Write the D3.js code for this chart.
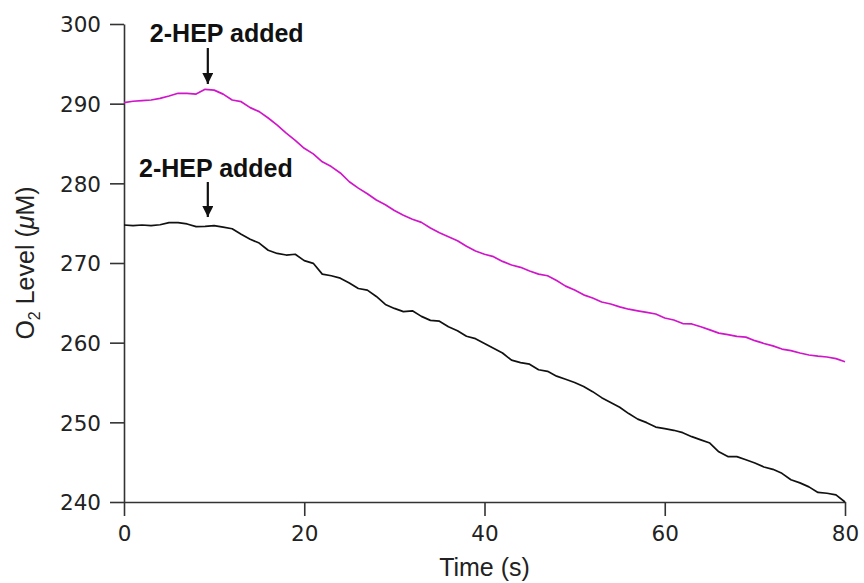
<!DOCTYPE html>
<html>
<head>
<meta charset="utf-8">
<script src="https://cdn.jsdelivr.net/npm/d3@7"></script>
<style>
  html, body { margin: 0; padding: 0; background: #fff; }
  svg { display: block; }
</style>
</head>
<body>
<svg id="chart" width="864" height="583"></svg>
<script>
// Oxygen trace sampled once per second
const timeS = d3.range(0, 81);

const o2Magenta = [
  290.12, 290.30, 290.38, 290.46, 290.67, 290.96, 291.30, 291.30, 291.20, 291.80,
  291.70, 291.20, 290.46, 290.25, 289.50, 289.00, 288.20, 287.30, 286.30, 285.40,
  284.40, 283.70, 282.70, 282.10, 281.30, 280.20, 279.40, 278.70, 277.90, 277.30,
  276.60, 276.00, 275.50, 275.10, 274.40, 273.80, 273.30, 272.80, 272.10, 271.50,
  271.10, 270.80, 270.20, 269.75, 269.46, 269.00, 268.60, 268.40, 267.80, 267.10,
  266.60, 266.00, 265.60, 265.10, 264.85, 264.50, 264.20, 264.00, 263.80, 263.60,
  263.10, 262.85, 262.40, 262.35, 262.00, 261.60, 261.20, 261.00, 260.80, 260.70,
  260.25, 259.90, 259.60, 259.20, 259.00, 258.70, 258.45, 258.30, 258.20, 258.00,
  257.60
];

const o2Black = [
  274.77, 274.70, 274.77, 274.70, 274.80, 275.06, 275.06, 274.90, 274.56, 274.60,
  274.70, 274.50, 274.30, 273.60, 272.97, 272.50, 271.60, 271.20, 271.00, 271.10,
  270.30, 269.96, 268.60, 268.40, 268.10, 267.50, 266.80, 266.60, 265.80, 264.80,
  264.30, 263.90, 264.00, 263.30, 262.80, 262.70, 262.00, 261.50, 260.80, 260.50,
  259.90, 259.30, 258.70, 257.80, 257.50, 257.30, 256.60, 256.40, 255.80, 255.40,
  255.00, 254.50, 253.85, 253.10, 252.50, 251.90, 251.10, 250.40, 249.96, 249.40,
  249.20, 249.00, 248.70, 248.20, 247.80, 247.40, 246.30, 245.70, 245.70, 245.30,
  244.90, 244.40, 244.10, 243.60, 242.80, 242.40, 241.90, 241.20, 241.10, 240.90,
  240.00
];

const xTicks = [0, 20, 40, 60, 80];
const yTicks = [240, 250, 260, 270, 280, 290, 300];

// "2-HEP added" markers: time of addition, label level, arrow start and tip (µM)
const markerText  = ["2-HEP added", "2-HEP added"];
const markerTime  = [9.3, 9.3];
const markerLabel = [297.74, 280.80];
const markerStart = [296.99, 280.17];
const markerTip   = [292.47, 275.77];
const markerShift = [11.4, 10.2];

const colors = { magenta: "#d015ca", black: "#111111", axis: "#333333" };

const W = 864, H = 583;
const margin = { top: 24, right: 19, bottom: 81, left: 124 };

const svg = d3.select("#chart");

const x = d3.scaleLinear().domain([0, 80]).range([margin.left, W - margin.right]);
const y = d3.scaleLinear().domain([240, 300]).range([H - margin.bottom, margin.top]);

const tickFont = "'DejaVu Sans', Verdana, sans-serif";
const labelFont = "'Liberation Sans', Arial, sans-serif";

// X axis
const gx = svg.append("g")
  .attr("transform", `translate(0,${H - margin.bottom})`)
  .call(d3.axisBottom(x).tickValues(xTicks).tickFormat(d3.format("d"))
    .tickSize(14).tickSizeOuter(0).tickPadding(8));

// Y axis
const gy = svg.append("g")
  .attr("transform", `translate(${margin.left},0)`)
  .call(d3.axisLeft(y).tickValues(yTicks).tickFormat(d3.format("d"))
    .tickSize(14).tickSizeOuter(0).tickPadding(9));

[gx, gy].forEach(g => {
  g.select(".domain").attr("stroke", colors.axis).attr("stroke-width", 1.6);
  g.selectAll(".tick line").attr("stroke", colors.axis).attr("stroke-width", 1.6);
  g.selectAll(".tick text")
    .attr("fill", "#222")
    .style("font-family", tickFont)
    .style("font-size", "21.5px");
});
gx.selectAll(".tick text").attr("dy", "0.78em");
gy.selectAll(".tick text").attr("dy", "0.36em");

// Axis titles
svg.append("text")
  .attr("x", (x(0) + x(80)) / 2)
  .attr("y", 576)
  .attr("text-anchor", "middle")
  .style("font-family", labelFont)
  .style("font-size", "25px")
  .attr("fill", "#222")
  .text("Time (s)");

const yTitle = svg.append("text")
  .attr("transform", `translate(34,${(y(240) + y(300)) / 2}) rotate(-90)`)
  .attr("text-anchor", "middle")
  .style("font-family", labelFont)
  .style("font-size", "25px")
  .attr("fill", "#222");
yTitle.append("tspan").text("O");
yTitle.append("tspan").attr("dy", 6).style("font-size", "16px").text("2");
yTitle.append("tspan").attr("dy", -6).text(" Level (");
yTitle.append("tspan").style("font-style", "italic").text("\u03BC");
yTitle.append("tspan").text("M)");

// Traces
const line = d3.line()
  .x((d, i) => x(timeS[i]))
  .y(d => y(d))
  .curve(d3.curveLinear);

svg.append("path")
  .datum(o2Magenta)
  .attr("d", line)
  .attr("fill", "none")
  .attr("stroke", colors.magenta)
  .attr("stroke-width", 1.7)
  .attr("stroke-linejoin", "round");

svg.append("path")
  .datum(o2Black)
  .attr("d", line)
  .attr("fill", "none")
  .attr("stroke", colors.black)
  .attr("stroke-width", 1.7)
  .attr("stroke-linejoin", "round");

// Arrowhead
svg.append("defs").append("marker")
  .attr("id", "arrowhead")
  .attr("viewBox", "0 0 10 10")
  .attr("refX", 10).attr("refY", 5)
  .attr("markerWidth", 6).attr("markerHeight", 5)
  .attr("markerUnits", "strokeWidth")
  .attr("orient", "auto")
  .append("path")
  .attr("d", "M0,0 L10,5 L0,10 Z")
  .attr("fill", "#111");

markerText.forEach((t, i) => {
  svg.append("text")
    .attr("x", x(markerShift[i]))
    .attr("y", y(markerLabel[i]))
    .attr("text-anchor", "middle")
    .style("font-family", labelFont)
    .style("font-size", "25px")
    .style("font-weight", "bold")
    .attr("fill", "#111")
    .text(t);

  svg.append("line")
    .attr("x1", x(markerTime[i])).attr("x2", x(markerTime[i]))
    .attr("y1", y(markerStart[i])).attr("y2", y(markerTip[i]))
    .attr("stroke", "#111")
    .attr("stroke-width", 2.2)
    .attr("marker-end", "url(#arrowhead)");
});
</script>
</body>
</html>
